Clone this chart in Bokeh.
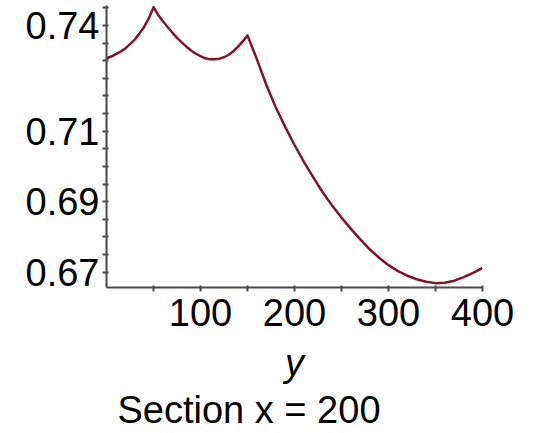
from bokeh.plotting import figure
from bokeh.models import FixedTicker, Range1d, Title
from bokeh.embed import file_html
from bokeh.resources import INLINE

# Data (section x = 200)
ys = [0, 5, 10, 15, 20, 25, 30, 35, 40, 45, 50,
      55, 60, 65, 70, 75, 80, 85, 90, 95, 100, 105, 110, 115, 120, 125, 130,
      135, 140, 145, 150,
      160, 170, 180, 190, 200, 210, 220, 230, 240, 250, 260, 270, 280, 290,
      300, 310, 320, 330, 340, 350, 360, 370, 380, 390, 400]
vals = [0.7307, 0.7312, 0.7319, 0.7326, 0.7335, 0.7347, 0.7360, 0.7377, 0.7396,
        0.7420, 0.7452,
        0.7430, 0.7412, 0.7396, 0.7380, 0.7365, 0.7352, 0.7340, 0.7329, 0.7320,
        0.7313, 0.7307, 0.7304, 0.7304, 0.7306, 0.7310, 0.7317, 0.7327, 0.7340,
        0.7355, 0.7372,
        0.7304, 0.7232, 0.7168, 0.7113, 0.7061, 0.7013, 0.6969, 0.6927, 0.6889,
        0.6855, 0.6823, 0.6793, 0.6765, 0.6741, 0.6720, 0.6703, 0.6690, 0.6680,
        0.6673, 0.6669, 0.6670, 0.6676, 0.6686, 0.6698, 0.6712]

x_major_ticks = [100, 200, 300, 400]
x_minor_ticks = [50, 150, 250, 350]
y_major_ticks = [0.67, 0.69, 0.71, 0.74]
y_minor_ticks = [0.675, 0.68, 0.685, 0.695, 0.70, 0.705, 0.715, 0.72, 0.725,
                 0.73, 0.735, 0.745]

FONT = "Liberation Sans"
AXIS_COLOR = "#4a4a4a"
LINE_COLOR = "#7f1526"

p = figure(width=541, height=433, output_backend="svg", toolbar_location=None,
           x_range=Range1d(0, 400), y_range=Range1d(0.66566, 0.74568),
           min_border_left=106, min_border_right=59, min_border_top=5,
           min_border_bottom=146, title=None)

p.line(ys, vals, line_color=LINE_COLOR, line_width=2.5, line_join="round")

p.grid.visible = False
p.outline_line_color = None
p.background_fill_color = "white"
p.border_fill_color = "white"

for ax in (p.xaxis[0], p.yaxis[0]):
    ax.axis_line_color = AXIS_COLOR
    ax.axis_line_width = 2
    ax.major_tick_line_color = AXIS_COLOR
    ax.minor_tick_line_color = AXIS_COLOR
    ax.major_tick_line_width = 2
    ax.minor_tick_line_width = 2
    ax.major_tick_in = 2
    ax.major_tick_out = 4
    ax.minor_tick_in = 2
    ax.minor_tick_out = 4
    ax.major_label_text_font = FONT
    ax.major_label_text_font_size = "38px"
    ax.major_label_text_color = "black"

p.xaxis[0].ticker = FixedTicker(ticks=x_major_ticks, minor_ticks=x_minor_ticks)
p.yaxis[0].ticker = FixedTicker(ticks=y_major_ticks, minor_ticks=y_minor_ticks)
p.xaxis[0].major_label_standoff = 7
p.yaxis[0].major_label_standoff = 3

p.xaxis[0].axis_label = "y"
p.xaxis[0].axis_label_text_font = FONT
p.xaxis[0].axis_label_text_font_size = "38px"
p.xaxis[0].axis_label_text_font_style = "italic"
p.xaxis[0].axis_label_text_color = "black"
p.xaxis[0].axis_label_standoff = 13

t = Title(text="Section x = 200", text_font=FONT, text_font_size="38px",
          text_font_style="normal", text_color="black", align="left", offset=11,
          standoff=0)
p.add_layout(t, "below")

open("out.html", "w").write(file_html(p, INLINE))
